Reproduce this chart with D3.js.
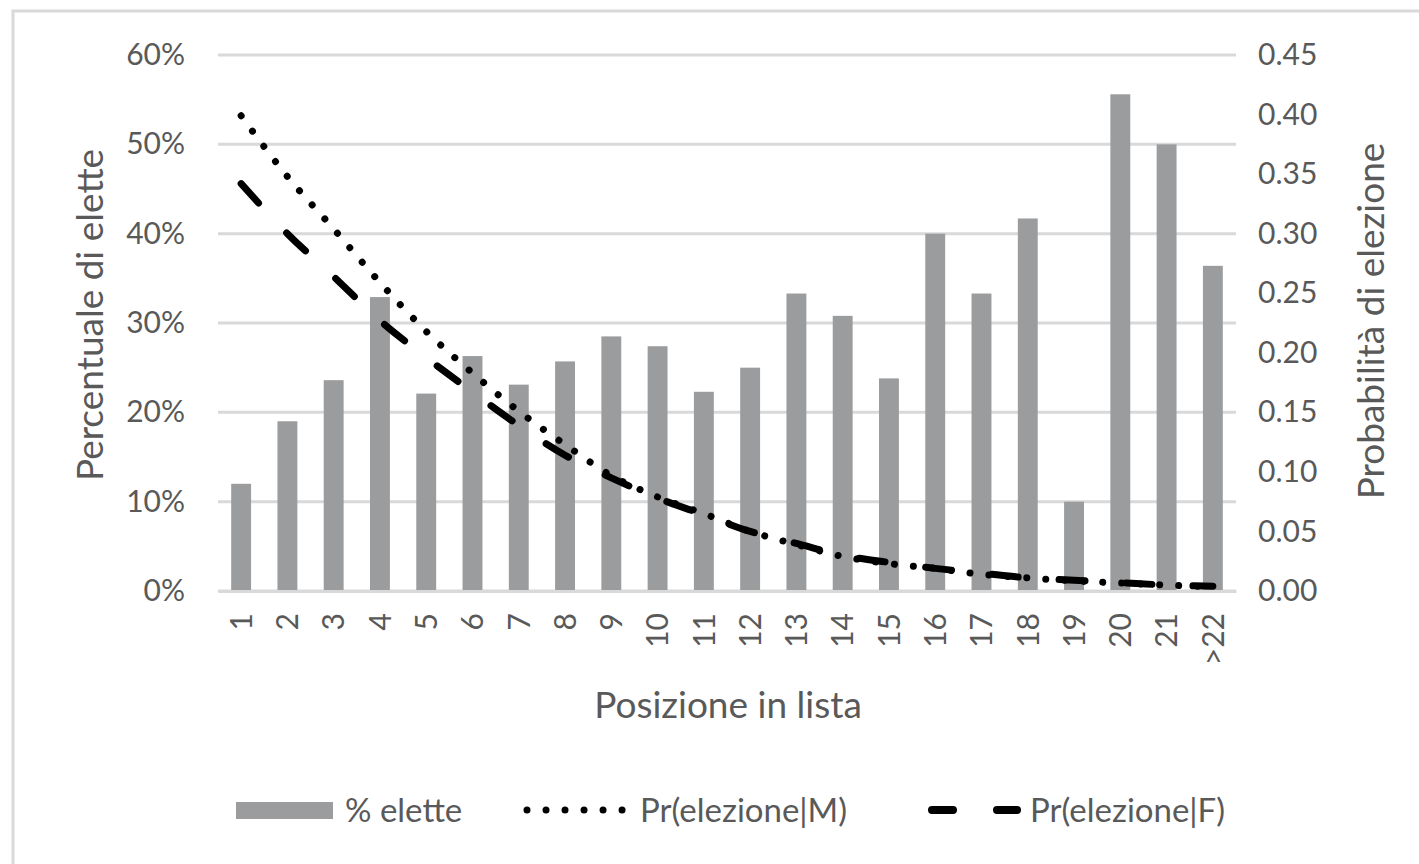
<!DOCTYPE html>
<html><head><meta charset="utf-8">
<script src="https://cdn.jsdelivr.net/npm/d3@7"></script>
<style>
html,body{margin:0;padding:0;background:#fff;}
svg{display:block;}
text{font-family:Lato,"Open Sans",sans-serif;fill:#595959;}
</style></head>
<body>
<svg id="chart" width="1419" height="864"></svg>
<script>
const categories = ["1","2","3","4","5","6","7","8","9","10","11","12","13","14","15","16","17","18","19","20","21",">22"];
const pctElette = [0.120,0.190,0.236,0.329,0.221,0.263,0.231,0.257,0.285,0.274,0.223,0.250,0.333,0.308,0.238,0.400,0.333,0.417,0.100,0.556,0.500,0.364];
const prM = [0.399,0.348,0.304,0.259,0.218,0.183,0.151,0.123,0.097,0.079,0.065,0.050,0.039,0.029,0.023,0.019,0.014,0.011,0.0085,0.0067,0.005,0.0035];
const prF = [0.342,0.300,0.264,0.227,0.196,0.167,0.139,0.114,0.095,0.078,0.064,0.050,0.040,0.030,0.024,0.019,0.015,0.011,0.009,0.007,0.005,0.004];
const leftTicks = [0,0.1,0.2,0.3,0.4,0.5,0.6];
const rightTicks = [0,0.05,0.10,0.15,0.20,0.25,0.30,0.35,0.40,0.45];
const seriesNames = ["% elette","Pr(elezione|M)","Pr(elezione|F)"];

const svg = d3.select("#chart");
const L = 218, R = 1236, T = 55, B = 591;

// outer frame
svg.append("rect").attr("x",13).attr("y",11).attr("width",1430).attr("height",880)
  .attr("fill","none").attr("stroke","#d9d9d9").attr("stroke-width",3);

const x = d3.scaleBand().domain(categories).range([L,R]).paddingInner(0.57).paddingOuter(0.285);
const yL = d3.scaleLinear().domain([0,0.6]).range([B,T]);
const yR = d3.scaleLinear().domain([0,0.45]).range([B,T]);
const cx = c => x(c) + x.bandwidth()/2;

// gridlines
svg.append("g").selectAll("line").data(leftTicks).join("line")
  .attr("x1",L).attr("x2",R).attr("y1",d=>yL(d)).attr("y2",d=>yL(d))
  .attr("stroke","#d9d9d9").attr("stroke-width",3);

// left axis labels
const gl = svg.append("g").attr("transform",`translate(${L},0)`)
  .call(d3.axisLeft(yL).tickValues(leftTicks).tickFormat(d3.format(".0%")).tickSize(0).tickPadding(33));
gl.select(".domain").remove();
gl.selectAll("text").style("font-size","30px").style("fill","#595959").style("font-family","Lato");

// right axis labels
const gr = svg.append("g").attr("transform",`translate(${R},0)`)
  .call(d3.axisRight(yR).tickValues(rightTicks).tickFormat(d3.format(".2f")).tickSize(0).tickPadding(22));
gr.select(".domain").remove();
gr.selectAll("text").style("font-size","30px").style("fill","#595959").style("font-family","Lato");

// bars
svg.append("g").selectAll("rect").data(pctElette).join("rect")
  .attr("x",(d,i)=>x(categories[i])).attr("width",x.bandwidth())
  .attr("y",d=>yL(d)).attr("height",d=>B-yL(d)).attr("fill","#9a9c9d");

// x axis
const gx = svg.append("g").attr("transform",`translate(0,${B})`)
  .call(d3.axisBottom(x).tickSize(0).tickPadding(0));
gx.select(".domain").attr("stroke","#d9d9d9").attr("stroke-width",3);
gx.selectAll("text").attr("transform","rotate(-90)").attr("text-anchor","end")
  .attr("x",-22).attr("y",0).attr("dy","0.36em")
  .style("font-size","30px").style("fill","#595959").style("font-family","Lato");

// lines
const line = ys => d3.line().x((d,i)=>cx(categories[i])).y(d=>ys(d)).curve(d3.curveMonotoneX);
svg.append("path").datum(prF).attr("d",line(yR)).attr("fill","none").attr("stroke","#000")
  .attr("stroke-width",7).attr("stroke-linecap","round").attr("stroke-dasharray","26 41");
svg.append("path").datum(prM).attr("d",line(yR)).attr("fill","none").attr("stroke","#000")
  .attr("stroke-width",7).attr("stroke-linecap","round").attr("stroke-dasharray","0.01 19");

// axis titles
svg.append("text").attr("transform","translate(103,315) rotate(-90)").attr("text-anchor","middle")
  .style("font-size","37px").text("Percentuale di elette");
svg.append("text").attr("transform","translate(1384,321) rotate(-90)").attr("text-anchor","middle")
  .style("font-size","37px").text("Probabilità di elezione");
svg.append("text").attr("x",728).attr("y",718).attr("text-anchor","middle")
  .style("font-size","37px").text("Posizione in lista");

// legend
const lg = svg.append("g");
lg.append("rect").attr("x",236).attr("y",802).attr("width",97).attr("height",17).attr("fill","#9a9c9d");
lg.append("text").attr("x",345).attr("y",822).style("font-size","33px").text(seriesNames[0]);
lg.append("line").attr("x1",527).attr("x2",623).attr("y1",810).attr("y2",810).attr("stroke","#000")
  .attr("stroke-width",7).attr("stroke-linecap","round").attr("stroke-dasharray","0.01 19");
lg.append("text").attr("x",640).attr("y",822).style("font-size","33px").text(seriesNames[1]);
lg.append("line").attr("x1",932).attr("x2",1017).attr("y1",810).attr("y2",810).attr("stroke","#000")
  .attr("stroke-width",8).attr("stroke-linecap","round").attr("stroke-dasharray","21 44");
lg.append("text").attr("x",1030).attr("y",822).style("font-size","33px").text(seriesNames[2]);
</script>
</body></html>
